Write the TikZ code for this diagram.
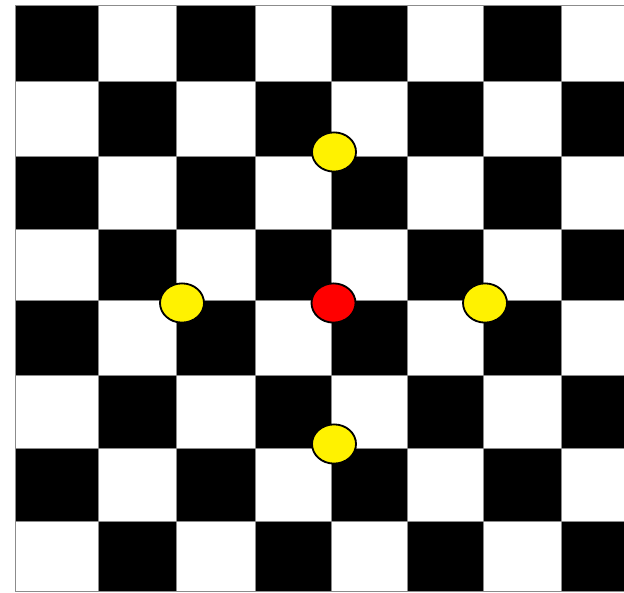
\documentclass[tikz,border=0pt]{standalone}
\usetikzlibrary{shapes.geometric}
\tikzstyle{square} = [draw=black!45, line width=0.5pt]
\tikzstyle{stone} = [ellipse, draw=black, line width=1.3pt, minimum width=1.1cm, minimum height=0.98cm, inner sep=0pt]

\begin{document}
\begin{tikzpicture}[x=0.025cm,y=-0.025cm]
    \useasboundingbox (0,0) rectangle (624,592);
    \begin{scope}
        \clip (0,0) rectangle (624,592);
        \foreach \i/\ya/\yb in {0/5/81,1/81/156,2/156/229,3/229/300,4/300/375,5/375/448,6/448/521,7/521/591}
            \foreach \j/\xa/\xb in {0/15/98,1/98/176,2/176/255,3/255/331,4/331/407,5/407/483,6/483/561,7/561/640}
            {
                \pgfmathtruncatemacro{\p}{mod(\i+\j,2)}
                \ifnum\p=0 \def\sqcol{black}\else\def\sqcol{white}\fi
                \filldraw[square, fill=\sqcol] (\xa,\ya) rectangle (\xb,\yb);
            }
    \end{scope}
    \node[stone, fill=yellow] (up) at (334,152) {};
    \node[stone, fill=yellow] (left) at (182,303) {};
    \node[stone, fill=red] (mid) at (333.5,303) {};
    \node[stone, fill=yellow] (right) at (485,303) {};
    \node[stone, fill=yellow] (down) at (334,444) {};
\end{tikzpicture}
\end{document}
